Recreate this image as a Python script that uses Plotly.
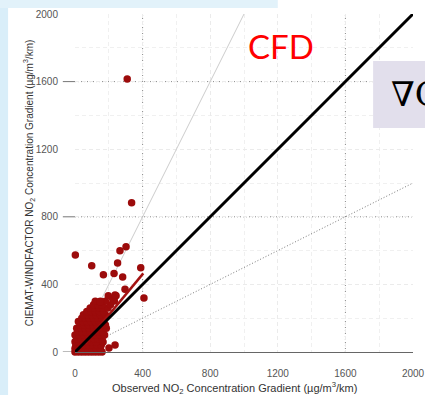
import plotly.graph_objects as go

# ---- data ----
outlier_x = [309, 335, 2, 99, 266, 302, 252, 168, 231, 282, 389, 296, 408, 243, 197, 223, 154, 233, 237, 148, 201, 237, 166]
outlier_y = [1615, 883, 574, 511, 599, 623, 526, 457, 465, 444, 499, 371, 320, 333, 333, 314, 298, 302, 337, 298, 24, 41, 59]

cluster_x = [
    0, 20, 40, 60, 80, 100, 120, 140, 160,
    0, 25, 50, 75, 100, 125, 150,
    5, 30, 55, 80, 105, 130, 155,
    0, 25, 50, 75, 100, 125,
    10, 35, 60, 85, 110, 135, 160,
    0, 25, 50, 75, 100, 125, 150, 175,
    15, 40, 65, 90, 115, 140, 165,
    10, 35, 60, 85, 110, 135, 160, 185,
    30, 55, 80, 105, 130, 155, 180,
    20, 45, 70, 95, 120, 145, 170,
    40, 60, 85, 110, 135, 160,
    50, 75, 100, 125, 150, 180,
    70, 95, 120, 145, 170,
    90, 115, 140, 165, 195,
    110, 135, 160, 210,
    120, 150, 180,
]
cluster_y = [
    0, 0, 0, 0, 0, 0, 0, 0, 0,
    20, 20, 20, 20, 20, 20, 20,
    40, 40, 40, 40, 40, 40, 40,
    60, 60, 60, 60, 60, 60,
    80, 80, 80, 80, 80, 80, 80,
    100, 100, 100, 100, 100, 100, 100, 100,
    120, 120, 120, 120, 120, 120, 120,
    140, 140, 140, 140, 140, 140, 140, 140,
    160, 160, 160, 160, 160, 160, 160,
    180, 180, 180, 180, 180, 180, 180,
    200, 200, 200, 200, 200, 200,
    220, 220, 220, 220, 220, 220,
    240, 240, 240, 240, 240,
    260, 260, 260, 260, 260,
    280, 280, 280, 280,
    300, 300, 300,
]

line_11_x = [0, 2000]
line_11_y = [0, 2000]
line_21_x = [0, 1000]
line_21_y = [0, 2000]
line_12_x = [0, 2000]
line_12_y = [0, 1000]
fit_x = [60, 404]
fit_y = [50, 465]

tick_vals = [0, 400, 800, 1200, 1600, 2000]
tick_text = ["0", "400", "800", "1200", "1600", "2000"]

pts_x = cluster_x + outlier_x
pts_y = cluster_y + outlier_y

fig = go.Figure()
fig.add_trace(go.Scatter(x=line_21_x, y=line_21_y, mode="lines",
                         line=dict(color="#cccccc", width=1), hoverinfo="skip"))
fig.add_trace(go.Scatter(x=line_12_x, y=line_12_y, mode="lines",
                         line=dict(color="#7a7a7a", width=1, dash="1px,2px"), hoverinfo="skip"))
fig.add_trace(go.Scatter(x=pts_x, y=pts_y, mode="markers", cliponaxis=False,
                         marker=dict(color="#9c0b0b", size=7.5, line=dict(width=0))))
fig.add_trace(go.Scatter(x=fit_x, y=fit_y, mode="lines",
                         line=dict(color="#a31212", width=2.5), hoverinfo="skip"))
fig.add_trace(go.Scatter(x=line_11_x, y=line_11_y, mode="lines",
                         line=dict(color="#000000", width=3), hoverinfo="skip"))

grid = dict(gridcolor="#ebebeb", griddash="4px,3px", gridwidth=1)
minor = dict(dtick=200, showgrid=True, gridcolor="#f0f0f0", griddash="4px,3px")

fig.update_xaxes(range=[0, 2000], tickvals=tick_vals, ticktext=tick_text,
                 showgrid=True, **grid, zeroline=False, automargin=False,
                 minor=minor,
                 showline=True, linecolor="#666666", linewidth=1,
                 ticks="", ticklabelstandoff=12,
                 tickfont=dict(family="Liberation Sans", size=10, color="#555555"))
fig.update_yaxes(range=[0, 2000], tickvals=tick_vals, ticktext=tick_text,
                 showgrid=True, **grid, zeroline=False, automargin=False,
                 minor=minor,
                 showline=False, ticks="", ticklabelstandoff=16,
                 tickfont=dict(family="Liberation Sans", size=10, color="#555555"),
                 title=dict(text="CIEMAT-WINDFACTOR NO<sub>2</sub> Concentration Gradient (µg/m<sup>3</sup>/km)",
                            font=dict(family="Liberation Sans", size=10, color="#333333"),
                            standoff=0))

shapes = []
# slide background strips (paper units relative to plot area 75..413 x 14..352 px)
shapes.append(dict(type="rect", xref="paper", yref="paper", x0=-0.23, x1=-0.198, y0=-0.2, y1=1.1,
                   fillcolor="#d9eef9", line=dict(width=0), layer="below"))
shapes.append(dict(type="rect", xref="paper", yref="paper", x0=-0.23, x1=0.6, y0=1.018, y1=1.1,
                   fillcolor="#e2f2fa", line=dict(width=0), layer="below"))
# darker dotted reference grid lines
for xv in [400, 1600]:
    shapes.append(dict(type="line", xref="x", yref="paper", x0=xv, x1=xv, y0=0, y1=1,
                       line=dict(color="#8a8a8a", width=1, dash="1px,2px"), layer="below"))
for yv in [800, 1600]:
    shapes.append(dict(type="line", xref="paper", yref="y", x0=0, x1=1, y0=yv, y1=yv,
                       line=dict(color="#8a8a8a", width=1, dash="1px,2px"), layer="below"))
# small dashes left of y axis
for yv in [0, 800, 1600]:
    shapes.append(dict(type="line", xref="paper", yref="y", x0=-0.036, x1=0, y0=yv, y1=yv,
                       line=dict(color="#777777", width=1), layer="below"))
# grad box
shapes.append(dict(type="rect", xref="paper", yref="paper", x0=0.882, x1=1.06, y0=0.663, y1=0.861,
                   fillcolor="#e2dfec", line=dict(width=0), layer="above"))

annotations = [
    dict(text="Observed NO<sub>2</sub> Concentration Gradient (µg/m<sup>3</sup>/km)",
         xref="paper", yref="paper", x=0.473, y=-0.106, showarrow=False,
         xanchor="center", yanchor="middle",
         font=dict(family="Liberation Sans", size=11, color="#333333")),
    dict(text="CFD", xref="paper", yref="paper", x=0.609, y=0.905, showarrow=False,
         xanchor="center", yanchor="middle",
         font=dict(family="Lato", size=33, color="#ff0000")),
    dict(text="∇C", xref="paper", yref="paper", x=0.93, y=0.762, showarrow=False,
         xanchor="left", yanchor="middle",
         font=dict(family="DejaVu Serif", size=34, color="#000000")),
]

fig.update_layout(width=425, height=395, margin=dict(l=75, r=12, t=14, b=43),
                  paper_bgcolor="white", plot_bgcolor="white", showlegend=False,
                  shapes=shapes, annotations=annotations)

fig.write_html("out.html", config={"displayModeBar": False},
               post_script="document.body.style.margin='0';document.body.style.overflow='hidden';")
